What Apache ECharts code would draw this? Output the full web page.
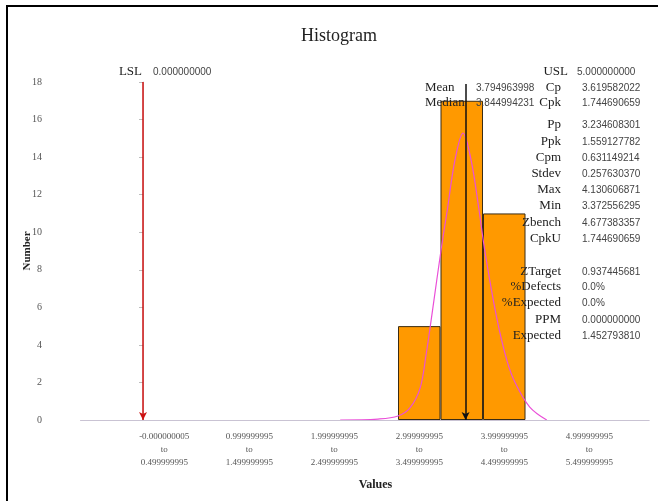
<!DOCTYPE html>
<html>
<head>
<meta charset="utf-8">
<script src="https://cdn.jsdelivr.net/npm/echarts@6/dist/echarts.min.js"></script>
<style>
  html, body { margin: 0; padding: 0; background: #ffffff; }
  #chart { width: 658px; height: 501px; }
</style>
</head>
<body>
<div id="chart"></div>
<script>
// Histogram bins (half-unit wide), lower and upper bounds as printed
const binLow = ['-1.000000005', '-0.500000005', '-0.000000005', '0.499999995', '0.999999995', '1.499999995',
  '1.999999995', '2.499999995', '2.999999995', '3.499999995', '3.999999995', '4.499999995', '4.999999995', '5.499999995'];
const binHigh = ['-0.500000005', '-0.000000005', '0.499999995', '0.999999995', '1.499999995', '1.999999995',
  '2.499999995', '2.999999995', '3.499999995', '3.999999995', '4.499999995', '4.999999995', '5.499999995', '5.999999995'];
// Which bins carry a tick label
const binLabelled = [false, false, true, false, true, false, true, false, true, false, true, false, true, false];
// Observed counts per bin
const counts = [0, 0, 0, 0, 0, 0, 0, 0, 5, 17, 11, 0, 0, 0];

// Fitted distribution curve (value, expected count)
const curveX = [2.32, 2.765, 3.0, 3.14, 3.26, 3.33, 3.40, 3.51, 3.58, 3.67, 3.765, 3.86, 3.95, 4.02, 4.16, 4.28, 4.38, 4.55, 4.75];
const curveY = [0, 0.05, 0.21, 0.64, 1.70, 3.46, 5.64, 9.16, 11.18, 13.84, 15.28, 13.84, 11.29, 9.05, 5.48, 3.19, 1.97, 0.69, 0];

// Specification limits and centre
const LSL = 0.0;
const USL = 5.0;
const MEAN = 3.794963998;
const MEDIAN = 3.844994231;

// Capability statistics, right-hand column
const statNames = ['Cp', 'Cpk', 'Pp', 'Ppk', 'Cpm', 'Stdev', 'Max', 'Min', 'Zbench', 'CpkU',
  'ZTarget', '%Defects', '%Expected', 'PPM', 'Expected'];
const statValues = ['3.619582022', '1.744690659', '3.234608301', '1.559127782', '0.631149214', '0.257630370',
  '4.130606871', '3.372556295', '4.677383357', '1.744690659', '0.937445681', '0.0%', '0.0%', '0.000000000', '1.452793810'];
const statRowY = [88, 103, 125, 142, 158, 174, 190, 206, 223, 239, 272, 287, 303, 320, 336];

const SERIF = '"Liberation Serif", "DejaVu Serif", serif';
const SANS = '"Liberation Sans", Arial, sans-serif';

const chart = echarts.init(document.getElementById('chart'), null, { renderer: 'canvas' });

const curveData = curveX.map((x, i) => [x, curveY[i]]);
// empty bins get no outline so the baseline stays light
const barData = counts.map(v => v === 0 ? { value: 0, itemStyle: { borderWidth: 0, opacity: 0 } } : v);

// Text blocks for the statistics panel
const graphics = [];
// frame around the sheet
graphics.push({ type: 'line', shape: { x1: 7, y1: 6, x2: 7, y2: 501 }, style: { stroke: '#000', lineWidth: 2 }, z: 50 });
graphics.push({ type: 'line', shape: { x1: 6, y1: 6, x2: 658, y2: 6 }, style: { stroke: '#000', lineWidth: 2 }, z: 50 });

const nameStyle = (x, y, text, align) => ({
  type: 'text', x: x, y: y, z: 60,
  style: { text: text, font: '13px ' + SERIF, fill: '#222', align: align || 'right', verticalAlign: 'middle' }
});
const valStyle = (x, y, text) => ({
  type: 'text', x: x, y: y, z: 60,
  style: { text: text, font: '10px ' + SANS, fill: '#444', align: 'left', verticalAlign: 'middle' }
});

statNames.forEach((n, i) => {
  graphics.push(nameStyle(561, statRowY[i], n));
  graphics.push(valStyle(582, statRowY[i], statValues[i]));
});
graphics.push(nameStyle(425, 88, 'Mean', 'left'));
graphics.push(valStyle(476, 88, MEAN.toFixed(9)));
graphics.push(nameStyle(425, 103, 'Median', 'left'));
graphics.push(valStyle(476, 103, MEDIAN.toFixed(9)));
graphics.push(nameStyle(568, 72, 'USL'));
graphics.push(valStyle(577, 72, USL.toFixed(9)));
graphics.push(nameStyle(142, 72, 'LSL'));
graphics.push(valStyle(153, 72, LSL.toFixed(9)));

const option = {
  backgroundColor: '#ffffff',
  animation: false,
  title: {
    text: 'Histogram',
    left: 296,
    top: 22,
    textStyle: { fontFamily: SERIF, fontSize: 18, fontWeight: 'normal', color: '#222' }
  },
  grid: { left: 58, right: 5, top: 82, bottom: 81, containLabel: false },
  xAxis: [
    {
      type: 'category',
      data: binLow,
      boundaryGap: true,
      name: 'Values',
      nameLocation: 'middle',
      nameGap: 59,
      nameMoveOverlap: false,
      nameTextStyle: { fontFamily: SERIF, fontSize: 12, fontWeight: 'bold', color: '#222', padding: [0, 0, 0, 40] },
      axisLine: { show: false },
      axisTick: { show: false },
      axisLabel: {
        interval: 0,
        margin: 10,
        fontFamily: SERIF,
        fontSize: 9,
        color: '#555',
        lineHeight: 13,
        formatter: (v, i) => binLabelled[i] ? (binLow[i] + '\nto\n' + binHigh[i]) : ''
      },
      splitLine: { show: false }
    },
    {
      type: 'value',
      min: -1,
      max: 6,
      show: false
    }
  ],
  yAxis: {
    type: 'value',
    min: 0,
    max: 18,
    interval: 2,
    name: 'Number',
    nameLocation: 'middle',
    nameGap: 25,
    nameMoveOverlap: false,
    nameRotate: 90,
    nameTextStyle: { fontFamily: SERIF, fontSize: 11, fontWeight: 'bold', color: '#222' },
    axisLine: { show: true, lineStyle: { color: '#d6d6d6', width: 1 } },
    axisTick: { show: true, inside: false, length: 4, lineStyle: { color: '#bdbdbd' } },
    axisLabel: { fontFamily: SERIF, fontSize: 10, color: '#555', margin: 16 },
    splitLine: { show: false }
  },
  series: [
    {
      type: 'bar',
      xAxisIndex: 0,
      data: barData,
      barCategoryGap: '0%',
      itemStyle: { color: '#ff9900', borderColor: '#3a2c14', borderWidth: 1 },
      z: 2
    },
    {
      type: 'line',
      xAxisIndex: 1,
      data: curveData,
      smooth: 0.35,
      showSymbol: false,
      lineStyle: { color: '#ea4fd8', width: 1.2 },
      z: 3
    },
    {
      // baseline under the bins
      type: 'line',
      xAxisIndex: 1,
      data: [],
      z: 1,
      markLine: {
        silent: true,
        animation: false,
        label: { show: false },
        data: [
          [
            { coord: [-0.74, 0], symbol: 'none', lineStyle: { color: '#c9c3d3', width: 1.2, type: 'solid' } },
            { coord: [5.96, 0], symbol: 'none' }
          ]
        ]
      }
    },
    {
      // specification limits and mean markers
      type: 'line',
      xAxisIndex: 1,
      data: [],
      z: 5,
      markLine: {
        silent: true,
        animation: false,
        label: { show: false },
        data: [
          [
            { coord: [LSL, 18], symbol: 'none', lineStyle: { color: '#cc1111', width: 1.5, type: 'solid' } },
            { coord: [LSL, 0], symbol: 'arrow', symbolSize: [6, 8] }
          ],
          [
            { coord: [USL, 18.1], symbol: 'none', lineStyle: { color: '#cc1111', width: 1.5, type: 'solid' } },
            { coord: [USL, 0], symbol: 'arrow', symbolSize: [6, 8] }
          ],
          [
            { coord: [MEAN, 17.9], symbol: 'none', lineStyle: { color: '#111111', width: 1.5, type: 'solid' } },
            { coord: [MEAN, 0], symbol: 'arrow', symbolSize: [6, 8] }
          ]
        ]
      }
    }
  ],
  graphic: graphics
};

chart.setOption(option);
</script>
</body>
</html>
